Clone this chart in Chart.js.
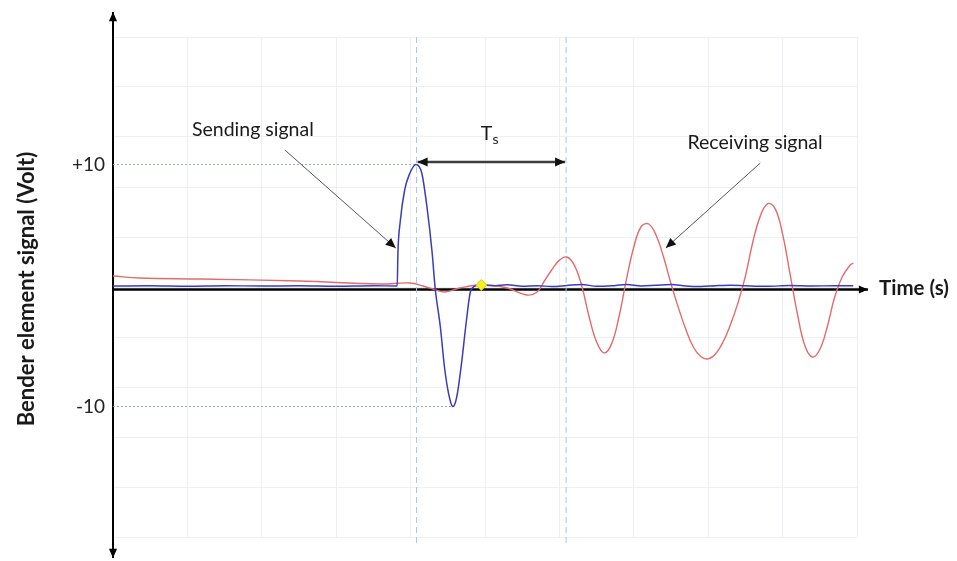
<!DOCTYPE html>
<html>
<head>
<meta charset="utf-8">
<script src="https://cdn.jsdelivr.net/npm/chart.js@4.4.1/dist/chart.umd.min.js"></script>
<style>
  html, body { margin: 0; padding: 0; background: #fff; }
  #wrap { width: 957px; height: 561px; }
</style>
</head>
<body>
<div id="wrap"><canvas id="chart" width="957" height="561"></canvas></div>
<script>
// Sending signal (blue), time in grid divisions, volts
const sendTime = [0, 0.5, 1, 1.5, 2, 2.5, 3, 3.5, 3.82, 3.83, 3.86, 3.92, 3.98, 4.07, 4.15, 4.22, 4.29, 4.33,
  4.40, 4.46, 4.53, 4.57, 4.62, 4.69, 4.74, 4.80, 4.83, 4.93, 5.1, 5.3, 5.5, 5.7, 5.9, 6.1, 6.3, 6.5,
  6.7, 6.9, 7.1, 7.3, 7.5, 7.7, 7.9, 8.1, 8.3, 8.5, 8.8, 9.1, 9.4, 9.7, 9.95];
const sendVolt = [0.28, 0.3, 0.26, 0.3, 0.28, 0.3, 0.26, 0.3, 0.28, 3.0, 5.4, 7.96, 9.16, 10.0, 9.32, 6.6, 2.92, 0.12,
  -3.0, -6.44, -8.84, -9.36, -8.6, -5.64, -3.0, -0.28, 0.12, 0.36, 0.3, 0.38, 0.26, 0.3, 0.24, 0.32, 0.4, 0.26,
  0.3, 0.4, 0.28, 0.34, 0.4, 0.28, 0.24, 0.3, 0.34, 0.3, 0.26, 0.32, 0.28, 0.3, 0.3];

// Receiving signal (red)
const recvTime = [0, 0.36, 1.17, 2.51, 3.59, 3.99, 4.17, 4.30, 4.46, 4.66, 4.89, 5.07, 5.30, 5.56, 5.70,
  5.8, 5.9, 6.0, 6.1, 6.2, 6.3, 6.4, 6.5, 6.6, 6.7, 6.8, 6.9, 7.0, 7.1, 7.2, 7.3, 7.4, 7.5, 7.6, 7.7,
  7.8, 7.9, 8.0, 8.1, 8.2, 8.3, 8.4, 8.5, 8.6, 8.7, 8.8, 8.9, 9.0, 9.1, 9.2, 9.3, 9.4, 9.5, 9.6, 9.7,
  9.8, 9.9, 9.95];
const recvVolt = [1.08, 0.92, 0.84, 0.68, 0.44, 0.52, 0.28, 0.04, -0.2, 0.12, 0.36, 0.36, 0.12, -0.44, -0.2,
  0.7, 1.6, 2.35, 2.6, 1.95, 0.3, -2.2, -4.2, -5.07, -4.37, -2.2, 0.77, 3.4, 5.04, 5.24, 4.34, 2.6, 0.46,
  -1.47, -3.2, -4.6, -5.36, -5.55, -5.14, -4.2, -2.8, -1.07, 1.07, 3.8, 5.87, 6.87, 6.47, 4.43, 1.25,
  -1.98, -4.5, -5.4, -4.8, -3.0, -0.6, 1.0, 1.9, 2.12];

// guide levels (+10 / -10) and where they meet the pulse
const levelVolt = [10, -9.36];
const levelTime = [4.08, 4.57];
const levelLabels = ['+10', '-10'];

// dashed markers: sending peak and first receiving peak
const markerTime = [4.08, 6.09];

// yellow diamond
const diamondTime = [4.95];
const diamondVolt = [0.36];

const yMin = -19.8, yMax = 20.2, gridStep = 4;
const gridColor = '#edf0f5';
const font = 'Lato, "Open Sans", sans-serif';

const toPoints = (xs, ys) => xs.map((x, i) => ({ x: x, y: ys[i] }));

const datasets = [
  {
    label: 'Sending signal',
    data: toPoints(sendTime, sendVolt),
    borderColor: '#3b3bbd',
    borderWidth: 1.5,
    pointRadius: 0,
    cubicInterpolationMode: 'monotone',
    order: 1
  },
  {
    label: 'Receiving signal',
    data: toPoints(recvTime, recvVolt),
    borderColor: '#e46b6b',
    borderWidth: 1.4,
    pointRadius: 0,
    tension: 0.4,
    order: 2
  },
  {
    label: 'diamond',
    data: toPoints(diamondTime, diamondVolt),
    showLine: false,
    pointStyle: 'rectRot',
    pointRadius: 5.5,
    backgroundColor: '#f6ef1c',
    borderColor: '#d9cc10',
    borderWidth: 1,
    order: 0
  }
];

levelVolt.forEach((v, i) => {
  datasets.push({
    label: 'level ' + levelLabels[i],
    data: [{ x: 0, y: v }, { x: levelTime[i], y: v }],
    borderColor: '#9aa6dc',
    borderWidth: 1,
    borderDash: [2, 2],
    pointRadius: 0,
    order: 5
  });
});

markerTime.forEach((t) => {
  datasets.push({
    label: 'marker',
    data: [{ x: t, y: yMax }, { x: t, y: yMin - 0.6 }],
    borderColor: '#a9c6de',
    borderWidth: 1,
    borderDash: [6, 4],
    pointRadius: 0,
    clip: false,
    order: 6
  });
});

function arrowHead(ctx, x1, y1, x2, y2, size) {
  const a = Math.atan2(y2 - y1, x2 - x1);
  ctx.beginPath();
  ctx.moveTo(x2, y2);
  ctx.lineTo(x2 - size * Math.cos(a - 0.42), y2 - size * Math.sin(a - 0.42));
  ctx.lineTo(x2 - size * Math.cos(a + 0.42), y2 - size * Math.sin(a + 0.42));
  ctx.closePath();
  ctx.fill();
}

function arrow(ctx, x1, y1, x2, y2, opts) {
  ctx.save();
  ctx.strokeStyle = opts.color;
  ctx.fillStyle = opts.head || opts.color;
  ctx.lineWidth = opts.width;
  ctx.beginPath();
  ctx.moveTo(x1, y1);
  ctx.lineTo(x2, y2);
  ctx.stroke();
  arrowHead(ctx, x1, y1, x2, y2, opts.size);
  if (opts.both) arrowHead(ctx, x2, y2, x1, y1, opts.size);
  ctx.restore();
}

const overlay = {
  id: 'overlay',
  beforeDatasetsDraw(chart) {
    const ctx = chart.ctx, a = chart.chartArea;
    const y0 = chart.scales.y.getPixelForValue(0);
    ctx.save();
    // vertical axis with arrows at both ends
    arrow(ctx, a.left, a.bottom + 12, a.left, a.top - 25, { color: '#000', width: 2, size: 10 });
    arrow(ctx, a.left, a.top - 10, a.left, a.bottom + 21, { color: '#000', width: 2, size: 10 });
    // time axis
    arrow(ctx, a.left, y0, a.right + 11, y0, { color: '#000', width: 2.6, size: 10 });
    ctx.restore();
  },
  afterDatasetsDraw(chart) {
    const ctx = chart.ctx, a = chart.chartArea;
    const xs = chart.scales.x, ys = chart.scales.y;
    const px = (t) => xs.getPixelForValue(t);
    const py = (v) => ys.getPixelForValue(v);
    const y0 = py(0);
    ctx.save();
    ctx.fillStyle = '#1a1a1a';
    ctx.textBaseline = 'middle';

    // Time (s)
    ctx.font = 'bold 20.5px ' + font;
    ctx.textAlign = 'left';
    ctx.fillText('Time (s)', a.right + 22, y0 - 1);

    // y title
    ctx.save();
    ctx.translate(27, 289);
    ctx.rotate(-Math.PI / 2);
    ctx.textAlign = 'center';
    ctx.font = 'bold 22px ' + font;
    ctx.fillText('Bender element signal (Volt)', 0, 0);
    ctx.restore();

    // annotation labels
    ctx.font = '19.5px ' + font;
    ctx.textAlign = 'center';
    ctx.fillText('Sending signal', px(1.88), py(12.76));
    ctx.fillText('Receiving signal', px(8.63), py(11.72));
    ctx.fillText('T', px(5.02), py(12.5));
    ctx.font = '14px ' + font;
    ctx.fillText('s', px(5.02) + 9, py(12.5) + 6);

    arrow(ctx, px(2.31), py(11.16), px(3.80), py(3.32), { color: '#555', head: '#111', width: 1, size: 11 });
    arrow(ctx, px(8.70), py(10.12), px(7.43), py(3.32), { color: '#555', head: '#111', width: 1, size: 11 });

    // Ts double arrow between the dashed markers
    arrow(ctx, px(markerTime[0]) + 1, py(10.2), px(markerTime[1]) - 1, py(10.2),
      { color: '#3d3d3d', head: '#111', width: 2.6, size: 11, both: true });
    ctx.restore();
  }
};

new Chart(document.getElementById('chart'), {
  type: 'line',
  data: { datasets: datasets },
  options: {
    responsive: false,
    animation: false,
    layout: { padding: { top: 37, right: 100, left: 0, bottom: 0 } },
    plugins: { legend: { display: false }, tooltip: { enabled: false } },
    scales: {
      x: {
        type: 'linear',
        min: 0,
        max: 10,
        border: { display: false },
        grid: { color: gridColor, drawTicks: false },
        ticks: { display: false, stepSize: 1 },
        afterFit(scale) { scale.height = 24; }
      },
      y: {
        type: 'linear',
        min: yMin,
        max: yMax,
        border: { display: false },
        afterBuildTicks(scale) {
          const t = [];
          for (let v = yMin; v <= yMax + 1e-6; v += gridStep) t.push({ value: +v.toFixed(2) });
          levelVolt.forEach((v) => t.push({ value: v }));
          t.sort((p, q) => p.value - q.value);
          scale.ticks = t;
        },
        grid: {
          drawTicks: false,
          color: (c) => (c.tick && levelVolt.includes(c.tick.value)) ? 'rgba(0,0,0,0)' : gridColor
        },
        ticks: {
          autoSkip: false,
          padding: 8,
          color: '#222',
          font: { family: font, size: 19 },
          callback: (v) => {
            const i = levelVolt.indexOf(v);
            return i >= 0 ? levelLabels[i] : '';
          }
        },
        afterFit(scale) { scale.width = 113; }
      }
    }
  },
  plugins: [overlay]
});
</script>
</body>
</html>
